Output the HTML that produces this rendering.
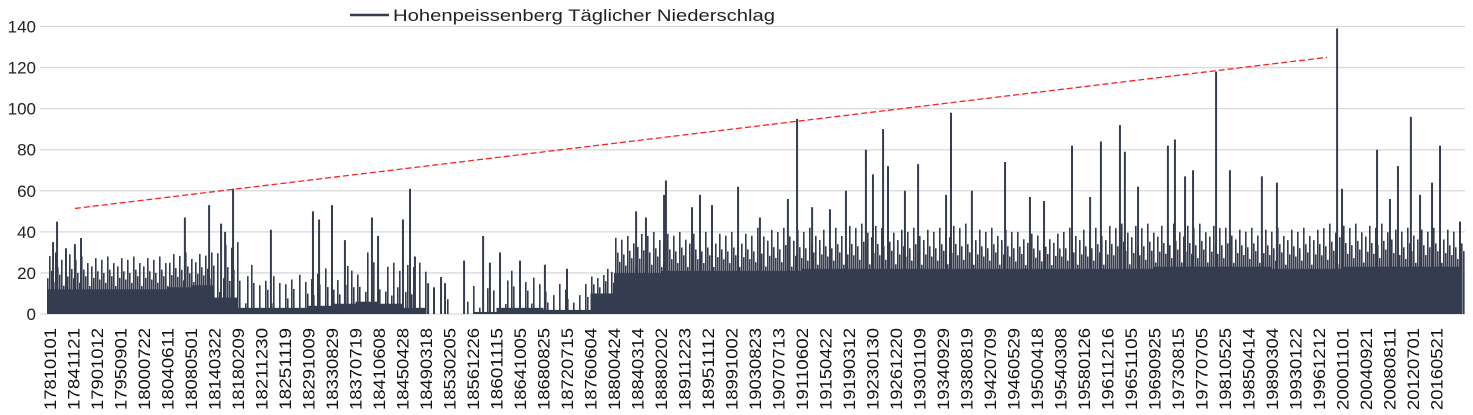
<!DOCTYPE html>
<html><head><meta charset="utf-8">
<style>
html,body{margin:0;padding:0;background:#fff;}
svg{display:block;font-family:"Liberation Sans",sans-serif;}
</style></head>
<body>
<svg id="chart" width="1473" height="415" viewBox="0 0 1473 415" xmlns="http://www.w3.org/2000/svg">
<g id="grid"></g>
<g id="yaxis"></g>
<g id="bars"></g>
<g id="spikes"></g>
<g id="trend"></g>
<g id="xaxis"></g>
<g>
<line x1="350" y1="15" x2="389" y2="15" stroke="#343d4f" stroke-width="2.5"/>
<text x="393" y="21" font-size="17" fill="#222" textLength="382" lengthAdjust="spacingAndGlyphs">Hohenpeissenberg Täglicher Niederschlag</text>
</g>
</svg>
<script>
const xLabels = ["17810101","17841121","17901012","17950901","18000722","18040611","18080501","18140322","18180209","18211230","18251119","18291009","18330829","18370719","18410608","18450428","18490318","18530205","18561226","18601115","18641005","18680825","18720715","18760604","18800424","18840314","18880202","18911223","18951112","18991002","19030823","19070713","19110602","19150422","19190312","19230130","19261220","19301109","19340929","19380819","19420709","19460529","19500418","19540308","19580126","19611216","19651105","19690925","19730815","19770705","19810525","19850414","19890304","19930122","19961212","20001101","20040921","20080811","20120701","20160521"];
const yTicks = [0,20,40,60,80,100,120,140];
// per label-interval: solid base level, typical tall-line level, fraction of days with rain lines
const fillLevel = [12,12,12,12,12,13,14,8,3,3,3,4,5,6,5,3,0,0,1,3,3,2,2,10,20,20,21,21,21,21,21,21,22,22,22,22,22,22,22,22,22,22,22,22,22,22,22,23,23,23,23,23,22,22,22,23,23,23,23,23];
const medLevel = [30,28,28,28,28,30,30,35,25,25,26,30,28,30,25,25,12,12,22,22,24,20,20,25,38,40,40,40,40,40,42,42,42,42,44,44,42,42,44,42,42,40,40,42,42,44,44,44,44,44,42,42,42,42,44,44,44,42,42,42];
const density = [1,1,1,1,1,1,1,0.8,0.5,0.5,0.5,0.6,0.6,0.6,0.6,0.5,0.1,0.1,0.3,0.5,0.5,0.4,0.4,0.7,1,1,1,1,1,1,1,1,1,1,1,1,1,1,1,1,1,1,1,1,1,1,1,1,1,1,1,1,1,1,1,1,1,1,1,1];
// notable daily maxima: position in label intervals, value (mm)
const spikePos = [0.13,0.30,0.68,1.06,1.32,5.74,6.77,7.28,7.45,7.79,9.40,11.19,11.45,12.0,12.55,13.70,13.96,15.02,15.32,15.53,16.09,16.34,16.64,16.81,17.62,18.43,18.72,19.15,20.0,21.06,22.0,24.94,25.36,26.13,26.21,27.32,27.66,28.17,29.28,30.21,31.40,31.79,32.43,33.19,33.87,34.72,35.02,35.45,35.66,36.38,36.94,38.13,38.34,39.23,40.64,41.70,42.30,43.49,44.26,44.72,45.53,45.74,46.30,47.57,47.87,48.30,48.64,49.62,50.21,51.57,52.21,54.77,54.98,56.47,57.02,57.36,57.91,58.30,58.81,59.15,60.0];
const spikeVal = [35,45,32,34,37,47,53,44,40,61,41,50,46,53,36,47,38,46,61,28,15,13,18,15,26,38,25,30,26,24,22,50,47,58,65,52,58,53,62,47,56,95,52,51,60,80,68,90,72,60,73,58,98,60,74,57,55,82,57,84,92,79,62,82,85,67,70,118,70,67,64,139,61,80,56,72,96,58,64,82,45];
const trendPos = [1.06,54.34];
const trendVal = [51.4,125];

const NS="http://www.w3.org/2000/svg";
const X0=50, DX=23.5, Y0=314, PXV=(314-26.5)/140, XL=47, XR=1465;
const xs=p=>X0+p*DX;
const ys=v=>Y0-v*PXV;
function mk(tag,parent,attrs){const e=document.createElementNS(NS,tag);for(const k in attrs)e.setAttribute(k,attrs[k]);parent.appendChild(e);return e;}
const grid=document.getElementById('grid'), yaxis=document.getElementById('yaxis');
yTicks.forEach(t=>{
  const l=mk('line',grid,{x1:40,x2:XR,y1:ys(t),y2:ys(t),stroke:'#d9d9d9','stroke-width':1.3});
  
  
  const tx=mk('text',yaxis,{x:36,y:ys(t)+6,'text-anchor':'end','font-size':17,fill:'#222'});
  tx.textContent=t;
  
  
});
const bars=document.getElementById('bars');
const pat=[0.3,0.9,0.5,0.2,1,0.6,0.4,0.8,0.1,0.7,0.35,0.95,0.55];
let k=0;
for(let x=XL;x<XR;x+=2,k++){
  const i=Math.min(fillLevel.length-1,Math.max(0,Math.floor((x-X0)/DX)));
  const keep=((k*7)%10)/10 < density[i];
  if(!keep) continue;
  const h=fillLevel[i]+(medLevel[i]-fillLevel[i])*pat[k%13];
  const r=mk('rect',bars,{x:x,y:ys(h),width:1.6,height:Y0-ys(h),fill:'#343d4f'});
  
  
}
fillLevel.forEach((f,i)=>{
  if(f<=0) return;
  const x1=Math.max(XL,xs(i)), x2=Math.min(XR,xs(i+1));
  const r=mk('rect',bars,{x:x1,y:ys(f),width:x2-x1,height:Y0-ys(f),fill:'#343d4f'});
  
  
});
const r0=mk('rect',bars,{x:XL,y:ys(fillLevel[0]),width:4,height:Y0-ys(fillLevel[0]),fill:'#343d4f'});


const spikes=document.getElementById('spikes');
spikePos.forEach((p,i)=>{
  const x=Math.min(XR-1,xs(p));
  const l=mk('line',spikes,{x1:x,x2:x,y1:Y0,y2:ys(spikeVal[i]),stroke:'#343d4f','stroke-width':2});
  
  
});
const trend=document.getElementById('trend');
const tl=mk('line',trend,{x1:xs(trendPos[0]),y1:ys(trendVal[0]),x2:xs(trendPos[1]),y2:ys(trendVal[1]),stroke:'#ff2020','stroke-width':1.3,'stroke-dasharray':'6,3'});


const xaxis=document.getElementById('xaxis');
xLabels.forEach((s,i)=>{
  const x=xs(i)+6;
  const t=mk('text',xaxis,{x:x,y:410,transform:'rotate(-90 '+x+' 410)','font-size':17,fill:'#111',textLength:82,lengthAdjust:'spacingAndGlyphs'});
  t.textContent=s;
  
  
});
</script>
</body></html>
